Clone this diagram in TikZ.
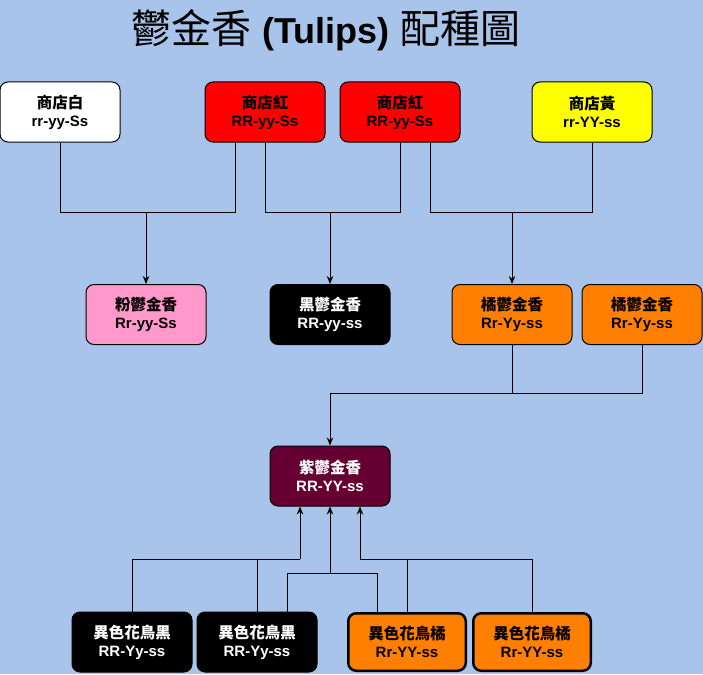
\documentclass[tikz,border=0pt]{standalone}
\usepackage{fontspec}
\setmainfont{Liberation Sans}
\newfontfamily\cjk{Noto Sans CJK TC}
\usetikzlibrary{arrows.meta}

\definecolor{bgblue}{HTML}{A9C4EB}
\definecolor{tulipred}{HTML}{FF0000}
\definecolor{tulipyellow}{HTML}{FFFF00}
\definecolor{tulippink}{HTML}{FF99CC}
\definecolor{tuliporange}{HTML}{FF8000}
\definecolor{tulippurple}{HTML}{660033}

\newcommand{\hanzi}[1]{{\cjk\fontsize{15.5}{18}\selectfont #1}}

\tikzset{
  plant/.style={draw=black, line width=1pt, rounded corners=8pt,
    minimum width=120pt, minimum height=60pt, inner sep=0pt, align=center,
    font=\bfseries\fontsize{15}{18}\selectfont},
  hybrid/.style={plant, line width=2.5pt, minimum width=117.5pt, minimum height=57.5pt},
  link/.style={line width=1pt},
  cross/.style={link, -{Stealth[length=8pt,width=6.5pt]}},
}

\begin{document}
\begin{tikzpicture}[x=1pt,y=-1pt]
    % canvas
    \fill[bgblue] (0,0) rectangle (703,674);
    \useasboundingbox (0,0) rectangle (703,674);
    \node (title) at (326,30) {{\cjk\fontsize{40}{42}\selectfont 鬱金香}\hspace{11pt}{\bfseries\fontsize{36}{42}\selectfont (Tulips)}\hspace{11pt}{\cjk\fontsize{40}{42}\selectfont 配種圖}};

    % shop tulips
    \node[plant, fill=white] (shopW) at (60,112) {\hanzi{商店白}\\rr-yy-Ss};
    \node[plant, fill=tulipred] (shopR1) at (265,112) {\hanzi{商店紅}\\RR-yy-Ss};
    \node[plant, fill=tulipred] (shopR2) at (400,112) {\hanzi{商店紅}\\RR-yy-Ss};
    \node[plant, fill=tulipyellow] (shopY) at (592,112) {\hanzi{商店黃}\\rr-YY-ss};

    % first crosses
    \node[plant, fill=tulippink] (pink) at (146,314.5) {\hanzi{粉鬱金香}\\Rr-yy-Ss};
    \node[plant, fill=black, text=white] (black) at (330,314.5) {\hanzi{黑鬱金香}\\RR-yy-ss};
    \node[plant, fill=tuliporange] (orangeA) at (512,314.5) {\hanzi{橘鬱金香}\\Rr-Yy-ss};
    \node[plant, fill=tuliporange] (orangeB) at (642,314.5) {\hanzi{橘鬱金香}\\Rr-Yy-ss};

    \node[plant, fill=tulippurple, text=white] (purple) at (330,476) {\hanzi{紫鬱金香}\\RR-YY-ss};

    % hybrids
    \node[plant, fill=black, text=white] (hybK1) at (132,642) {\hanzi{異色花鳥黑}\\RR-Yy-ss};
    \node[plant, fill=black, text=white] (hybK2) at (257,642) {\hanzi{異色花鳥黑}\\RR-Yy-ss};
    \node[hybrid, fill=tuliporange] (hybO1) at (407,642) {\hanzi{異色花鳥橘}\\Rr-YY-ss};
    \node[hybrid, fill=tuliporange] (hybO2) at (532,642) {\hanzi{異色花鳥橘}\\Rr-YY-ss};

    % join points
    \coordinate (jPink) at (146,212);
    \coordinate (jBlack) at (330,212);
    \coordinate (jOrange) at (512,212);
    \coordinate (jPurple) at (330,393);
    \coordinate (jLeft) at (300,559);
    \coordinate (jMid) at (330,573);
    \coordinate (jRight) at (360,559);

    % shop crosses
    \draw[link] (shopW.south) |- (jPink);
    \draw[link] ([xshift=-30pt]shopR1.south) |- (jPink);
    \draw[cross] (jPink) -- (pink.north);
    \draw[link] (shopR1.south) |- (jBlack);
    \draw[link] (shopR2.south) |- (jBlack);
    \draw[cross] (jBlack) -- (black.north);
    \draw[link] ([xshift=30pt]shopR2.south) |- (jOrange);
    \draw[link] (shopY.south) |- (jOrange);
    \draw[cross] (jOrange) -- (orangeA.north);

    % orange x orange
    \draw[link] (orangeA.south) |- (jPurple);
    \draw[link] (orangeB.south) |- (jPurple);
    \draw[cross] (jPurple) -- (purple.north);

    % hybrid crosses
    \draw[link] (hybK1.north) |- (jLeft);
    \draw[link] (hybK2.north) |- (jLeft);
    \draw[cross] (jLeft) -- (jLeft |- purple.south);
    \draw[link] ([xshift=30pt]hybK2.north) |- (jMid);
    \draw[link] ([xshift=-30pt]hybO1.north) |- (jMid);
    \draw[cross] (jMid) -- (purple.south);
    \draw[link] (hybO1.north) |- (jRight);
    \draw[link] (hybO2.north) |- (jRight);
    \draw[cross] (jRight) -- (jRight |- purple.south);
\end{tikzpicture}
\end{document}
